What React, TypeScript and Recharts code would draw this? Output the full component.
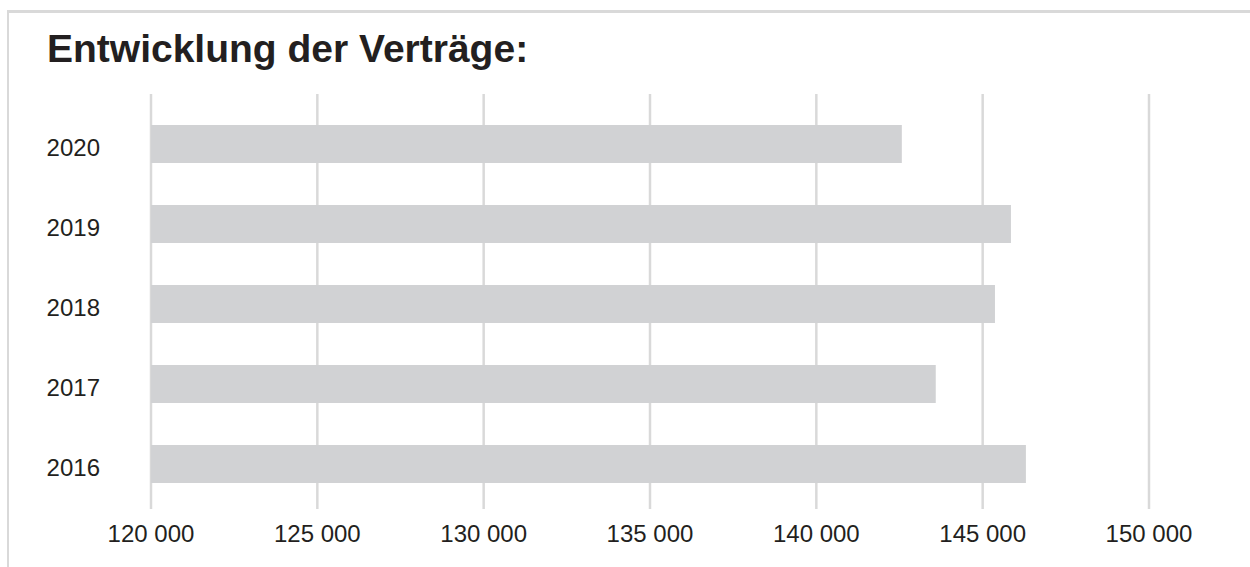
import React from "react";
import { BarChart, Bar, XAxis, YAxis, CartesianGrid } from "recharts";

// Contract counts per year (top row first)
const years = ["2020", "2019", "2018", "2017", "2016"];
const contracts = [142570, 145850, 145370, 143590, 146300];
const xTicks = [120000, 125000, 130000, 135000, 140000, 145000, 150000];

const rows = years.map((year, i) => ({ year, value: contracts[i] }));

const FONT = '"Liberation Sans", Arial, Helvetica, sans-serif';
const TEXT = "#231f20";
const GRID = "#d9d9d9";
const BAR = "#d1d2d4";

const formatThousands = (v: number) =>
  String(v).replace(/\B(?=(\d{3})+(?!\d))/g, " ");

// Year label, right-aligned and sitting slightly below the bar centre
const YearTick = (props: any) => {
  const { x, y, payload } = props;
  return (
    <text
      x={x}
      y={y + 3}
      dy="0.355em"
      textAnchor="end"
      fill={TEXT}
      fontSize={24}
      fontFamily={FONT}
    >
      {payload.value}
    </text>
  );
};

export default function App() {
  return (
    <div
      style={{
        position: "absolute",
        left: 0,
        top: 0,
        width: 1250,
        height: 567,
        background: "#ffffff",
        overflow: "hidden",
        fontFamily: FONT,
      }}
    >
      {/* frame, open to the right and bottom */}
      <div
        style={{
          position: "absolute",
          left: 7,
          top: 10,
          width: 1300,
          height: 700,
          borderTop: `3px solid ${GRID}`,
          borderLeft: `2px solid ${GRID}`,
        }}
      />
      <div
        style={{
          position: "absolute",
          left: 47,
          top: 29,
          fontSize: 39,
          lineHeight: "39px",
          fontWeight: 700,
          color: TEXT,
          whiteSpace: "nowrap",
        }}
      >
        Entwicklung der Verträge:
      </div>
      <div style={{ position: "absolute", left: 0, top: 0 }}>
        <BarChart
          width={1250}
          height={567}
          data={rows}
          layout="vertical"
          margin={{ top: 94, right: 101, bottom: 0, left: 0 }}
        >
          <CartesianGrid
            horizontal={false}
            vertical
            stroke={GRID}
            strokeWidth={2.5}
          />
          <XAxis
            type="number"
            domain={[120000, 150000]}
            ticks={xTicks}
            allowDataOverflow
            tickFormatter={formatThousands}
            axisLine={false}
            tickLine={false}
            tickSize={0}
            tickMargin={16}
            height={58}
            tick={{ fill: TEXT, fontSize: 24, fontFamily: FONT }}
            interval={0}
          />
          <YAxis
            type="category"
            dataKey="year"
            width={151}
            axisLine={false}
            tickLine={false}
            tickSize={0}
            tickMargin={51}
            padding={{ top: 10, bottom: 5 }}
            tick={<YearTick />}
            interval={0}
          />
          <Bar
            dataKey="value"
            fill={BAR}
            barSize={38}
            isAnimationActive={false}
          />
        </BarChart>
      </div>
    </div>
  );
}
